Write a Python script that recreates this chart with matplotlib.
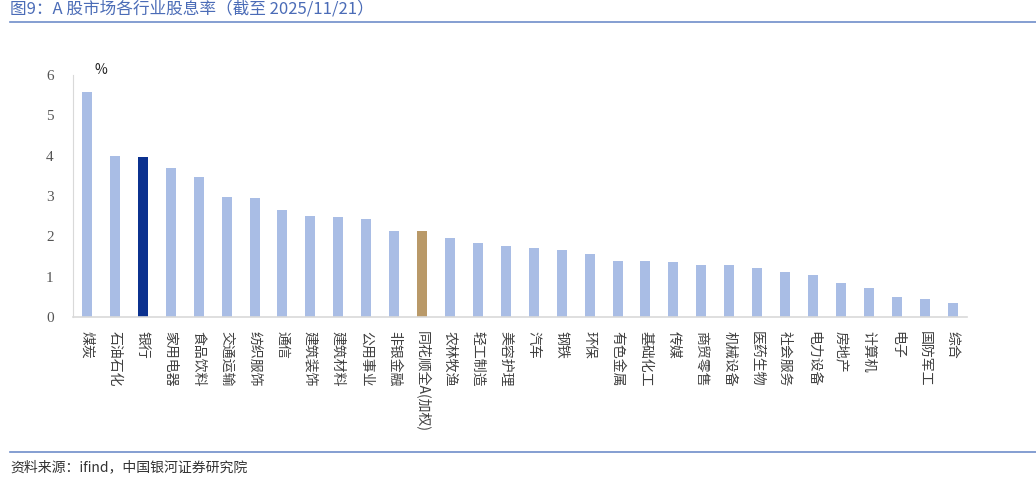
import matplotlib
matplotlib.use("Agg")
import matplotlib.pyplot as plt
from matplotlib.lines import Line2D

plt.rcParams['font.family'] = ['Noto Sans CJK SC', 'DejaVu Sans']

# 行业与股息率(%)
industries = ['煤炭', '石油石化', '银行', '家用电器', '食品饮料', '交通运输', '纺织服饰', '通信',
              '建筑装饰', '建筑材料', '公用事业', '非银金融', '同花顺全A(加权)', '农林牧渔', '轻工制造',
              '美容护理', '汽车', '钢铁', '环保', '有色金属', '基础化工', '传媒', '商贸零售', '机械设备',
              '医药生物', '社会服务', '电力设备', '房地产', '计算机', '电子', '国防军工', '综合']
yields = [5.58, 4.00, 3.97, 3.70, 3.47, 2.98, 2.95, 2.65,
          2.50, 2.48, 2.43, 2.13, 2.13, 1.97, 1.84,
          1.77, 1.72, 1.65, 1.57, 1.40, 1.40, 1.37, 1.30, 1.30,
          1.22, 1.12, 1.04, 0.85, 0.73, 0.50, 0.45, 0.35]

base_color = '#a9bde5'
colors = [base_color] * len(industries)
colors[industries.index('银行')] = '#0b318f'
colors[industries.index('同花顺全A(加权)')] = '#b99968'

fig = plt.figure(figsize=(10.36, 4.8), dpi=100)
ax = fig.add_axes([0.0705, 0.3396, 0.8625, 0.5042])

x = range(len(industries))
ax.bar(x, yields, width=0.36, color=colors, zorder=2)

ax.set_xlim(-0.5, len(industries) - 0.5)
ax.set_ylim(0, 6)
ax.set_yticks(range(0, 7))
ax.set_yticklabels([str(v) for v in range(0, 7)], family='Liberation Serif',
                   fontsize=11, color='#555555')
ax.set_xticks(list(x))
ax.set_xticklabels(industries, rotation=270, fontsize=10, color='#404040',
                   va='top', ha='center')
ax.tick_params(axis='both', length=0)
ax.tick_params(axis='y', pad=14)
ax.tick_params(axis='x', pad=10)

for side in ['top', 'right']:
    ax.spines[side].set_visible(False)
ax.spines['left'].set_color('#d9d9d9')
ax.spines['bottom'].set_color('#d9d9d9')
ax.spines['bottom'].set_linewidth(1.2)

# 单位
fig.text(101 / 1036, 1 - 70 / 480, '%', fontsize=10, ha='center', va='center', color='#222222')

# 标题与分隔线
title_color = '#4b6cb7'
fig.text(10 / 1036, 1 - 9 / 480, '图9：A 股市场各行业股息率（截至 2025/11/21）',
         fontsize=12, color=title_color, ha='left', va='center')
fig.add_artist(Line2D([10 / 1036, 1], [1 - 22 / 480, 1 - 22 / 480],
                      transform=fig.transFigure, color='#6f8dc9', lw=1.2))
fig.add_artist(Line2D([10 / 1036, 1], [1 - 452 / 480, 1 - 452 / 480],
                      transform=fig.transFigure, color='#6f8dc9', lw=1.2))
fig.text(10 / 1036, 1 - 467 / 480, '资料来源：ifind，中国银河证券研究院',
         fontsize=10, style='italic', color='#333333', ha='left', va='center')

fig.savefig('out.png', dpi=100)
